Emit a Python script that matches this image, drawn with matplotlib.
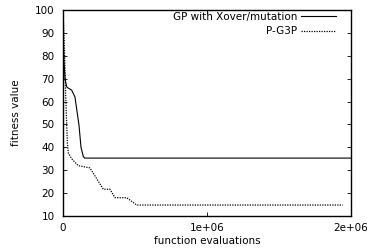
import matplotlib
matplotlib.use('Agg')
import matplotlib.pyplot as plt

plt.rcParams['font.family'] = ['DejaVu Sans']
plt.rcParams['font.size'] = 7.5

# GP with Xover/mutation
gp_x = [0, 6000, 14000, 25000, 33000, 60000, 83000, 111000, 125000, 141000, 150000, 2000000]
gp_y = [90, 78, 70, 66.5, 66, 65, 62, 49.7, 40, 36, 35.3, 35.3]

# P-G3P
pg_x = [0, 9000, 20000, 30000, 37000, 60000, 106000, 187000, 280000, 326000,
        361000, 442000, 512000, 1944000]
pg_y = [100, 85, 60, 42, 37.5, 35, 32, 31, 21.7, 21.7, 18, 18, 14.8, 14.8]

xticks = [0, 1000000, 2000000]
xticklabels = ['0', '1e+06', '2e+06']
yticks = list(range(10, 101, 10))

fig = plt.figure(figsize=(3.67, 2.49), dpi=100)
ax = fig.add_axes([0.1717, 0.1325, 0.7843, 0.8275])

ax.plot(gp_x, gp_y, color='black', linewidth=0.8, label='GP with Xover/mutation')
ax.plot(pg_x, pg_y, color='black', linewidth=0.9, linestyle=(0, (1, 1)), label='P-G3P')

ax.set_xlim(0, 2000000)
ax.set_ylim(10, 100)
ax.set_xticks(xticks)
ax.set_xticklabels(xticklabels)
ax.set_yticks(yticks)
ax.tick_params(direction='in', length=3, width=0.6, top=True, right=True)
ax.tick_params(axis='y', pad=6)
ax.tick_params(axis='x', pad=5)
for s in ax.spines.values():
    s.set_linewidth(1.0)

ax.set_xlabel('function evaluations', labelpad=2)
ax.set_ylabel('fitness value', labelpad=10)

ax.legend(loc='upper right', bbox_to_anchor=(0.962, 1.01), frameon=False,
          markerfirst=False, handlelength=3.3, handletextpad=0.4,
          borderaxespad=0, labelspacing=0.4)

fig.savefig('out.png', dpi=100)
